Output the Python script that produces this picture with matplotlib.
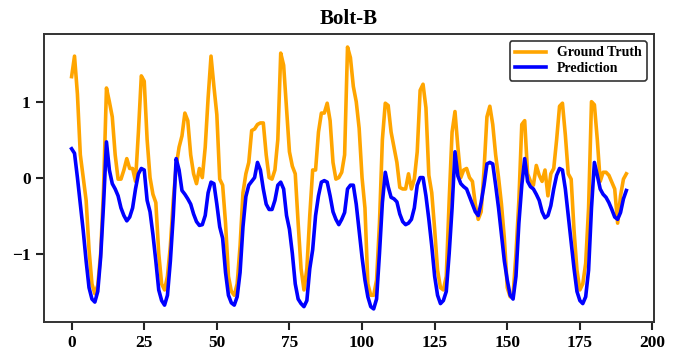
import matplotlib
matplotlib.use("Agg")
from matplotlib import pyplot as plt

# ground truth and prediction, one value per time step (0..191)
ground_truth = [
    1.33, 1.60, 1.10, 0.30, 0.00, -0.30, -0.95, -1.40, -1.53, -1.42,
    -1.00, -0.15, 1.18, 1.00, 0.80, 0.30, -0.02, -0.02, 0.10, 0.25,
    0.12, 0.12, -0.05, 0.60, 1.34, 1.27, 0.50, 0.00, -0.22, -0.33,
    -1.00, -1.40, -1.48, -1.30, -0.90, -0.30, 0.15, 0.40, 0.55, 0.85,
    0.75, 0.30, 0.05, -0.08, 0.12, 0.00, 0.40, 1.05, 1.60, 1.20,
    0.83, -0.02, -0.10, -0.60, -1.30, -1.50, -1.55, -1.40, -0.90, -0.20,
    0.05, 0.20, 0.62, 0.64, 0.70, 0.72, 0.72, 0.30, 0.00, -0.02,
    0.10, 0.50, 1.64, 1.48, 0.90, 0.34, 0.15, 0.05, -0.60, -1.20,
    -1.48, -1.20, -0.50, 0.10, 0.10, 0.60, 0.85, 0.85, 0.98, 0.75,
    0.20, -0.02, 0.00, 0.07, 0.30, 1.72, 1.58, 1.20, 1.00, 0.65,
    0.00, -0.40, -1.40, -1.55, -1.55, -1.35, -0.60, 0.50, 0.98, 0.95,
    0.60, 0.40, 0.20, -0.13, -0.15, -0.15, 0.05, -0.15, -0.02, 0.34,
    1.15, 1.23, 0.92, 0.03, -0.20, -0.68, -1.22, -1.45, -1.48, -1.30,
    -0.30, 0.60, 0.87, 0.40, 0.00, 0.10, 0.12, 0.00, -0.05, -0.35,
    -0.55, -0.45, 0.10, 0.80, 0.94, 0.70, 0.30, 0.00, -0.35, -0.80,
    -1.45, -1.57, -1.55, -1.00, -0.30, 0.70, 0.75, 0.05, -0.05, -0.10,
    0.16, 0.03, -0.05, 0.10, -0.24, 0.05, 0.12, 0.50, 0.94, 0.98,
    0.56, 0.05, -0.02, -0.70, -1.22, -1.48, -1.40, -1.13, -0.40, 1.00,
    0.96, 0.50, -0.05, 0.07, 0.07, 0.03, -0.06, -0.15, -0.60, -0.24,
    -0.02, 0.05,
]

prediction = [
    0.38, 0.32, 0.00, -0.35, -0.70, -1.10, -1.45, -1.60, -1.64, -1.50,
    -1.05, -0.35, 0.47, 0.10, -0.08, -0.15, -0.24, -0.40, -0.50, -0.57,
    -0.52, -0.40, -0.15, 0.05, 0.12, 0.10, -0.30, -0.45, -0.75, -1.10,
    -1.48, -1.62, -1.68, -1.55, -1.10, -0.50, 0.25, 0.10, -0.17, -0.22,
    -0.28, -0.35, -0.48, -0.58, -0.63, -0.62, -0.50, -0.20, -0.06, -0.08,
    -0.35, -0.65, -0.80, -1.25, -1.55, -1.65, -1.68, -1.57, -1.25, -0.65,
    -0.25, -0.10, -0.05, 0.00, 0.20, 0.10, -0.15, -0.35, -0.42, -0.42,
    -0.30, -0.10, -0.06, -0.15, -0.50, -0.68, -1.00, -1.40, -1.60, -1.66,
    -1.70, -1.62, -1.20, -0.95, -0.50, -0.24, -0.06, -0.04, -0.06, -0.24,
    -0.45, -0.55, -0.62, -0.55, -0.46, -0.15, -0.10, -0.10, -0.35, -0.70,
    -1.05, -1.35, -1.57, -1.70, -1.73, -1.60, -1.00, -0.33, 0.07, -0.12,
    -0.26, -0.28, -0.32, -0.48, -0.58, -0.62, -0.60, -0.55, -0.40, -0.10,
    0.00, 0.00, -0.24, -0.55, -0.90, -1.30, -1.55, -1.66, -1.62, -1.50,
    -1.00, -0.40, 0.34, 0.02, -0.08, -0.12, -0.15, -0.25, -0.35, -0.45,
    -0.50, -0.33, -0.10, 0.18, 0.20, 0.18, -0.10, -0.40, -0.75, -1.10,
    -1.35, -1.55, -1.60, -1.30, -0.60, -0.10, 0.25, -0.05, -0.12, -0.15,
    -0.22, -0.30, -0.45, -0.53, -0.50, -0.37, -0.15, 0.03, 0.12, 0.10,
    -0.15, -0.50, -0.86, -1.20, -1.50, -1.62, -1.66, -1.57, -1.22, -0.40,
    0.20, 0.03, -0.15, -0.22, -0.26, -0.33, -0.42, -0.52, -0.55, -0.46,
    -0.28, -0.17,
]

steps = list(range(len(ground_truth)))

plt.rcParams['font.family'] = ['Liberation Serif', 'DejaVu Serif']
plt.rcParams['font.weight'] = 'bold'

fig = plt.figure(figsize=(6.75, 3.61), dpi=100)
ax = fig.add_axes([0.065, 0.108, 0.904, 0.798])

ax.plot(steps, ground_truth, color='orange', linewidth=2.6, label='Ground Truth')
ax.plot(steps, prediction, color='blue', linewidth=2.6, label='Prediction')

ax.set_title('Bolt-B', fontsize=15, fontweight='bold', pad=7)
ax.set_xticks([0, 25, 50, 75, 100, 125, 150, 175, 200])
ax.set_yticks([-1, 0, 1])
ax.tick_params(axis='both', labelsize=12.5, length=6, width=1.5, color='#222222')
for lab in ax.get_xticklabels() + ax.get_yticklabels():
    lab.set_fontweight('bold')
for sp in ax.spines.values():
    sp.set_linewidth(1.4)
    sp.set_color('#333333')

leg = ax.legend(loc='upper right', fontsize=10, frameon=True, fancybox=True,
                handlelength=2.2, borderpad=0.4, labelspacing=0.2)
leg.get_frame().set_edgecolor('#333333')
leg.get_frame().set_linewidth(1.2)
leg.get_frame().set_alpha(1)
for t in leg.get_texts():
    t.set_fontweight('bold')

fig.savefig('out.png', dpi=100)
